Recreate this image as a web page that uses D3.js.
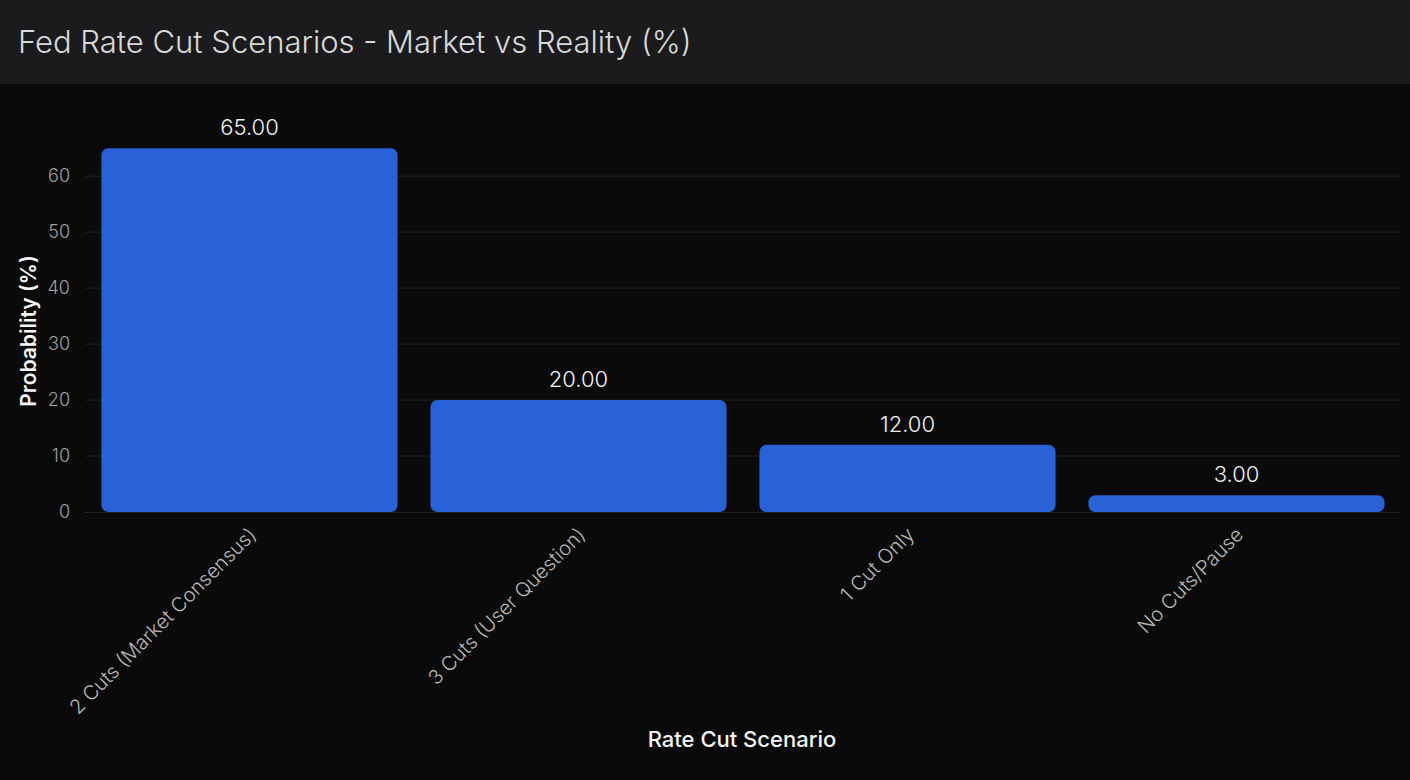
<!DOCTYPE html>
<html>
<head>
<meta charset="utf-8">
<script src="https://cdn.jsdelivr.net/npm/d3@7"></script>
<style>
  html, body { margin: 0; padding: 0; background: #0a0a0a; }
  body { width: 1410px; height: 780px; overflow: hidden; font-family: Inter, "Liberation Sans", sans-serif; }
</style>
</head>
<body>
<div id="chart"></div>
<script>
const scenarios = ["2 Cuts (Market Consensus)", "3 Cuts (User Question)", "1 Cut Only", "No Cuts/Pause"];
const probabilities = [65, 20, 12, 3];
const yTicks = [0, 10, 20, 30, 40, 50, 60];

const width = 1410, height = 780;
const headerH = 84;
const font = "Inter, 'Liberation Sans', sans-serif";

let margin = { top: 130, bottom: 268, left: 85, right: 9 };

let svg = d3.select("#chart")
  .append("svg")
  .attr("width", width)
  .attr("height", height)
  .style("font-family", font);

// header band
svg.append("rect")
  .attr("x", 0).attr("y", 0)
  .attr("width", width).attr("height", headerH)
  .attr("fill", "#1b1b1d");

svg.append("text")
  .attr("x", 18)
  .attr("y", 53)
  .attr("fill", "#d9d9d9")
  .attr("font-size", 31)
  .attr("font-weight", 300)
  .text("Fed Rate Cut Scenarios - Market vs Reality (%)");

let xscale = d3.scaleBand()
  .domain(scenarios)
  .range([margin.left, width - margin.right])
  .paddingInner(0.1)
  .paddingOuter(0.05);

let yscale = d3.scaleLinear()
  .domain([0, 65 * 1.05])
  .range([height - margin.bottom, margin.top]);

// gridlines
svg.append("g")
  .selectAll("line")
  .data(yTicks.filter(d => d > 0))
  .join("line")
  .attr("x1", margin.left)
  .attr("x2", width - margin.right)
  .attr("y1", d => yscale(d))
  .attr("y2", d => yscale(d))
  .attr("stroke", "#232323")
  .attr("stroke-width", 1);

// y axis
let yaxis = svg.append("g")
  .attr("transform", `translate(${margin.left},0)`)
  .call(d3.axisLeft(yscale).tickValues(yTicks).tickSize(0).tickPadding(15));
yaxis.select(".domain").remove();
yaxis.selectAll("text")
  .attr("fill", "#a0a0a0")
  .attr("font-size", 18)
  .attr("font-weight", 300)
  .attr("font-family", font);

// bars
svg.append("g")
  .selectAll("rect")
  .data(scenarios)
  .join("rect")
  .attr("x", d => xscale(d))
  .attr("y", (d, i) => yscale(probabilities[i]))
  .attr("width", xscale.bandwidth())
  .attr("height", (d, i) => yscale(0) - yscale(probabilities[i]))
  .attr("rx", 7)
  .attr("fill", "#2962d6");

// baseline
svg.append("line")
  .attr("x1", margin.left)
  .attr("x2", width - margin.right)
  .attr("y1", yscale(0) + 0.5)
  .attr("y2", yscale(0) + 0.5)
  .attr("stroke", "#3a3a3a")
  .attr("stroke-dasharray", "1,1");

// value labels
svg.append("g")
  .selectAll("text")
  .data(scenarios)
  .join("text")
  .attr("x", d => xscale(d) + xscale.bandwidth() / 2)
  .attr("y", (d, i) => yscale(probabilities[i]) - 13)
  .attr("text-anchor", "middle")
  .attr("fill", "#f2f2f2")
  .attr("font-size", 22)
  .attr("font-weight", 300)
  .text((d, i) => probabilities[i].toFixed(2));

// x axis
let xaxis = svg.append("g")
  .attr("transform", `translate(0, ${yscale(0)})`)
  .call(d3.axisBottom(xscale).tickSize(0).tickPadding(0));
xaxis.select(".domain").remove();
xaxis.selectAll("text")
  .attr("fill", "#b8b8b8")
  .attr("font-size", 20)
  .attr("font-weight", 300)
  .attr("font-family", font)
  .attr("text-anchor", "end")
  .attr("dy", null)
  .attr("transform", "translate(8, 24) rotate(-45)");

// axis titles
svg.append("text")
  .attr("x", 742)
  .attr("y", 747)
  .attr("text-anchor", "middle")
  .attr("fill", "#f5f5f5")
  .attr("font-size", 22)
  .attr("font-weight", 500)
  .text("Rate Cut Scenario");

svg.append("text")
  .attr("transform", `translate(36, ${yscale(0) - (yscale(0) - margin.top) / 2 + 10}) rotate(-90)`)
  .attr("text-anchor", "middle")
  .attr("fill", "#f5f5f5")
  .attr("font-size", 21)
  .attr("font-weight", 600)
  .text("Probability (%)");
</script>
</body>
</html>
